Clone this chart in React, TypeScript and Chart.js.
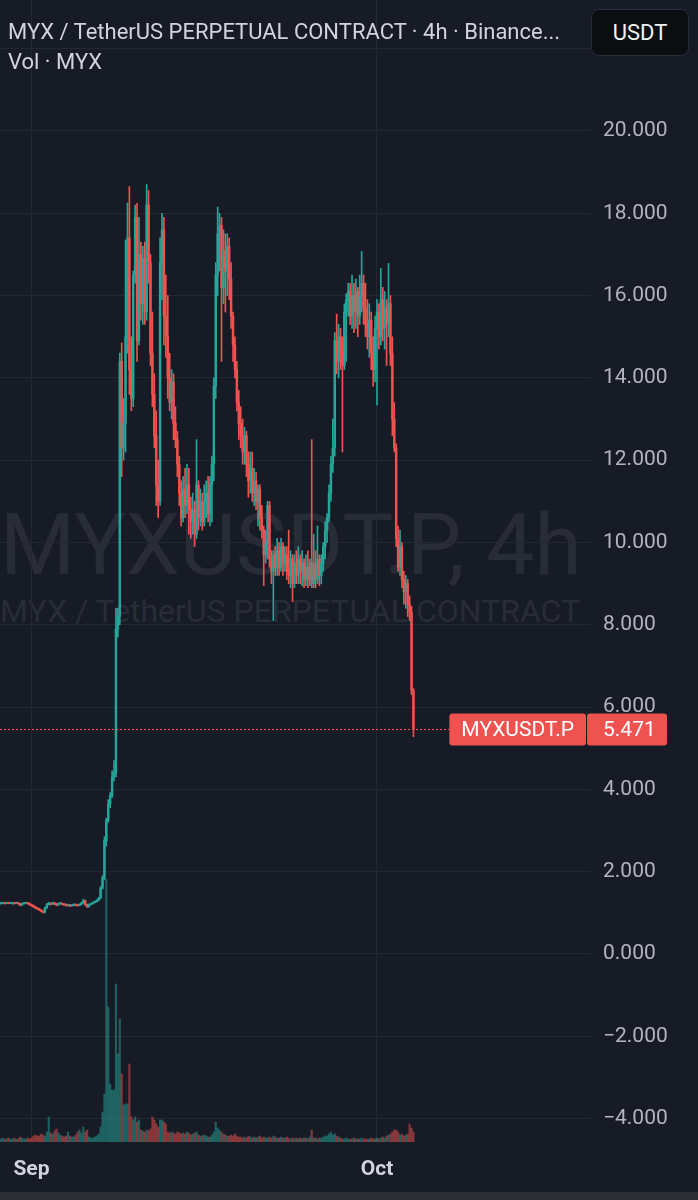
import React, { useEffect, useRef } from "react";
import { Chart, registerables } from "chart.js";

Chart.register(...registerables);

// ---- text ----
const SYMBOL = "MYXUSDT.P";
const TITLE = "MYX / TetherUS PERPETUAL CONTRACT · 4h · Binance...";
const SUBTITLE = "Vol · MYX";
const WATERMARK_MAIN = "MYXUSDT.P, 4h";
const WATERMARK_SUB = "MYX / TetherUS PERPETUAL CONTRACT";
const CURRENCY = "USDT";

// ---- time grid (hours relative to Sep 1 00:00) ----
const START_HOUR = -64;
const CANDLE_HOURS = 4;
const TIME_TICKS = [0, 720];
const TIME_LABELS = ["Sep", "Oct"];
const X_MIN = -65.6;
const X_MAX = 1163.9;

// ---- price scale ----
const PRICE_TICKS = [-4, -2, 0, 2, 4, 6, 8, 10, 12, 14, 16, 18, 20, 22];
const Y_MIN = -4.569;
const Y_MAX = 23.183;
const LAST_PRICE = 5.471;
const VOL_MAX = 114.2;

// ---- 4h candles ----
const FIRST_OPEN = 1.22;
const CLOSE = [
  1.23, 1.24, 1.23, 1.24, 1.23, 1.24, 1.24, 1.23, 1.24, 1.23,
  1.19, 1.22, 1.23, 1.24, 1.23, 1.2, 1.18, 1.15, 1.12, 1.1,
  1.07, 1.04, 1.02, 1.12, 1.2, 1.23, 1.21, 1.24, 1.22, 1.19,
  1.22, 1.23, 1.21, 1.2, 1.18, 1.19, 1.17, 1.18, 1.2, 1.19,
  1.18, 1.2, 1.24, 1.3, 1.2, 1.15, 1.2, 1.22, 1.25, 1.27,
  1.3, 1.36, 1.6, 1.85, 2.75, 3.25, 3.65, 3.85, 4.3, 4.4,
  7.9, 8.2, 14.4, 12.3, 12.9, 15.0, 17.4, 14.2, 13.5, 16.5,
  17.9, 14.9, 17.0, 15.8, 16.9, 15.6, 18.2, 16.8, 14.6, 13.6,
  12.6, 11.4, 11.0, 16.8, 17.6, 15.5, 15.0, 14.0, 13.4, 13.9,
  12.9, 12.5, 11.9, 11.2, 10.6, 11.3, 10.9, 11.4, 10.8, 10.5,
  10.8, 10.2, 11.4, 10.6, 11.0, 10.5, 11.0, 11.2, 10.7, 11.4,
  11.9, 13.8, 16.5, 17.5, 17.7, 16.2, 17.1, 16.6, 17.2, 16.4,
  15.5, 14.8, 14.2, 13.4, 12.9, 12.6, 12.2, 12.6, 11.9, 11.5,
  11.8, 11.2, 11.5, 11.0, 11.3, 10.6, 10.3, 9.7, 10.0, 10.9,
  9.6, 9.3, 9.7, 9.4, 9.8, 9.4, 9.9, 9.5, 9.7, 9.3,
  9.2, 9.6, 9.0, 9.5, 9.2, 9.6, 9.3, 9.5, 9.1, 9.4,
  9.1, 9.5, 9.0, 9.5, 9.1, 9.6, 9.2, 9.5, 9.9, 10.3,
  10.6, 11.2, 11.9, 12.3, 14.9, 14.4, 15.0, 14.6, 14.3, 15.6,
  15.9, 16.1, 15.5, 16.0, 15.6, 16.1, 15.5, 16.0, 16.3, 15.7,
  15.3, 15.0, 15.4, 14.6, 14.2, 15.2, 15.6, 15.0, 15.9, 15.2,
  15.7, 15.3, 15.8, 14.6, 13.0, 12.3, 10.1, 9.4, 9.9, 9.1,
  8.8, 9.0, 8.5, 8.3, 6.4, 5.471,
];
const HIGH = [
  1.25, 1.26, 1.25, 1.26, 1.25, 1.26, 1.25, 1.25, 1.26, 1.25,
  1.24, 1.24, 1.25, 1.26, 1.25, 1.24, 1.21, 1.19, 1.16, 1.13,
  1.11, 1.08, 1.05, 1.14, 1.23, 1.26, 1.24, 1.26, 1.25, 1.23,
  1.24, 1.25, 1.24, 1.22, 1.21, 1.21, 1.2, 1.2, 1.22, 1.21,
  1.2, 1.22, 1.26, 1.33, 1.31, 1.21, 1.22, 1.24, 1.27, 1.29,
  1.32, 1.38, 1.64, 1.9, 2.85, 3.3, 3.75, 3.92, 4.45, 4.7,
  8.4, 8.4, 14.6, 14.85, 13.5, 17.35, 18.25, 18.65, 15.0, 16.6,
  18.2, 18.24, 17.9, 17.3, 17.2, 17.3, 18.7, 18.55, 17.0, 15.6,
  14.1, 13.2, 12.0, 17.4, 18.0, 17.9, 16.5, 16.0, 14.6, 14.2,
  14.1, 13.3, 12.7, 12.1, 11.5, 11.6, 11.8, 11.9, 11.8, 11.1,
  11.2, 11.0, 12.5, 11.5, 11.3, 11.2, 11.4, 11.5, 11.6, 11.6,
  12.1, 14.0, 16.8, 18.15, 18.0, 17.9, 17.6, 17.5, 17.5, 17.4,
  16.8, 15.6, 15.0, 14.4, 13.7, 13.3, 13.0, 12.8, 12.7, 12.2,
  12.2, 12.2, 11.8, 11.7, 11.4, 11.4, 10.9, 10.4, 10.3, 11.0,
  11.0, 9.8, 9.8, 9.9, 10.1, 10.0, 10.1, 10.0, 9.9, 9.9,
  10.3, 9.8, 9.7, 9.7, 9.8, 9.9, 9.7, 9.8, 9.6, 9.7,
  9.8, 9.6, 12.5, 10.2, 9.8, 10.4, 9.7, 9.7, 10.0, 10.5,
  10.7, 11.4, 12.1, 13.0, 15.1, 15.55, 15.3, 15.2, 15.0, 15.8,
  16.05, 16.3, 16.3, 16.5, 16.3, 16.4, 16.2, 16.5, 17.07, 16.5,
  16.3, 15.9, 15.8, 15.6, 15.0, 15.5, 15.9, 15.8, 16.66, 16.2,
  16.1, 15.9, 16.78, 16.0, 15.0, 13.4, 12.4, 10.4, 10.3, 10.0,
  9.3, 9.2, 9.1, 8.7, 8.45, 6.45,
];
const LOW = [
  1.21, 1.22, 1.21, 1.22, 1.22, 1.22, 1.22, 1.21, 1.22, 1.21,
  1.17, 1.18, 1.21, 1.22, 1.21, 1.18, 1.16, 1.13, 1.1, 1.08,
  1.05, 1.02, 0.99, 1.0, 1.11, 1.19, 1.19, 1.2, 1.2, 1.17,
  1.18, 1.21, 1.19, 1.18, 1.16, 1.16, 1.15, 1.16, 1.17, 1.17,
  1.16, 1.17, 1.19, 1.23, 1.18, 1.13, 1.14, 1.19, 1.21, 1.24,
  1.26, 1.29, 1.34, 1.58, 1.8, 2.62, 3.2, 3.55, 3.8, 4.2,
  4.3, 7.7, 8.0, 11.6, 12.0, 12.2, 14.6, 13.6, 13.2, 13.3,
  16.3, 14.4, 14.8, 15.4, 15.3, 15.3, 15.4, 16.3, 14.3, 13.3,
  12.3, 10.9, 10.6, 10.9, 15.9, 14.8, 14.5, 13.5, 13.2, 13.0,
  12.5, 12.3, 11.6, 10.9, 10.4, 10.5, 10.6, 10.7, 10.2, 10.1,
  10.2, 9.9, 10.1, 10.3, 10.4, 10.3, 10.4, 10.6, 10.5, 10.4,
  10.5, 11.5, 13.5, 16.0, 16.6, 14.4, 15.8, 15.6, 16.0, 15.9,
  15.2, 14.4, 14.0, 13.2, 12.5, 12.3, 11.9, 11.9, 11.6, 11.1,
  11.2, 11.0, 10.9, 10.8, 10.4, 10.3, 10.1, 8.95, 9.5, 9.6,
  9.4, 9.0, 8.1, 9.2, 9.2, 9.2, 9.3, 9.2, 9.3, 9.1,
  9.0, 8.9, 8.56, 8.9, 9.0, 9.0, 9.0, 8.95, 8.9, 8.95,
  8.9, 8.95, 8.9, 8.9, 8.9, 9.0, 8.95, 9.0, 9.3, 9.6,
  10.0, 10.5, 11.0, 11.7, 12.1, 14.1, 14.0, 14.2, 12.2, 14.2,
  14.4, 15.5, 15.3, 15.2, 15.1, 15.2, 15.0, 15.3, 15.6, 15.3,
  15.0, 14.7, 14.5, 14.2, 13.8, 13.9, 13.34, 14.7, 14.8, 14.9,
  14.7, 14.3, 15.0, 14.3, 12.6, 12.2, 9.9, 9.3, 9.2, 8.9,
  8.5, 8.4, 8.2, 8.1, 6.3, 5.28,
];
// volume, millions of MYX
const VOLUME = [
  0.3, 0.4, 0.3, 0.3, 0.4, 0.3, 0.3, 0.4, 0.3, 0.3,
  0.5, 0.4, 0.3, 0.3, 0.4, 0.3, 0.4, 0.6, 0.7, 0.6,
  0.6, 0.8, 0.7, 0.6, 1.0, 2.5, 0.9, 0.8, 1.1, 1.3,
  0.9, 0.7, 0.6, 0.5, 0.6, 1.0, 0.6, 0.5, 0.5, 0.7,
  1.0, 1.2, 0.9, 1.5, 1.0, 1.2, 0.5, 0.4, 0.4, 0.5,
  0.6, 0.8, 1.5, 3.0, 4.8, 26.3, 13.5, 5.8, 5.2, 5.2,
  15.8, 8.8, 12.3, 6.8, 3.7, 3.8, 3.8, 7.8, 2.5, 2.2,
  2.5, 2.0, 2.2, 1.2, 1.1, 1.0, 1.2, 1.1, 1.3, 2.5,
  2.2, 1.8, 1.5, 2.2, 2.2, 2.0, 1.8, 1.0, 0.9, 1.0,
  0.9, 0.8, 1.0, 0.9, 0.8, 0.9, 0.8, 1.0, 0.9, 0.7,
  0.8, 0.9, 1.0, 0.7, 0.6, 0.6, 0.7, 0.6, 0.5, 0.5,
  0.7, 1.0, 2.0, 1.4, 1.2, 1.0, 0.8, 0.7, 0.6, 0.6,
  0.7, 0.6, 0.8, 0.6, 0.5, 0.5, 0.4, 0.5, 0.4, 0.6,
  0.5, 0.4, 0.5, 0.4, 0.5, 0.6, 0.4, 0.5, 0.4, 0.4,
  0.5, 0.4, 0.6, 0.5, 0.4, 0.4, 0.5, 0.4, 0.4, 0.5,
  0.4, 0.3, 0.4, 0.3, 0.4, 0.3, 0.4, 0.3, 0.4, 0.4,
  0.3, 0.5, 1.2, 0.4, 0.4, 0.3, 0.4, 0.4, 0.5, 0.6,
  0.6, 0.8, 1.0, 0.7, 0.8, 0.6, 0.5, 0.4, 0.3, 0.3,
  0.4, 0.3, 0.3, 0.3, 0.4, 0.3, 0.3, 0.3, 0.4, 0.3,
  0.3, 0.3, 0.3, 0.4, 0.3, 0.3, 0.4, 0.3, 0.4, 0.5,
  0.4, 0.6, 0.7, 0.8, 1.0, 1.2, 1.2, 1.0, 0.7, 0.8,
  0.6, 0.7, 0.8, 1.8, 1.4, 1.0,
];

// ---- style ----
const BG = "#171b26";
const GRID = "#242833";
const UP = "#26a69a";
const DOWN = "#ef5350";
const UP_VOL = "rgba(38,166,154,0.5)";
const DOWN_VOL = "rgba(239,83,80,0.5)";
const AXIS_TEXT = "#b2b5be";
const HEAD_TEXT = "#d1d4dc";
const WATERMARK = "#282c37";
const FONT = 'Roboto, "Noto Sans", sans-serif';

const fmtPrice = (v: number) => (v < 0 ? "\u2212" : "") + Math.abs(v).toFixed(3);

const priceLinePlugin = {
  id: "priceLine",
  afterDraw(chart: any) {
    const { ctx, chartArea, scales } = chart;
    const y = Math.round(scales.y.getPixelForValue(LAST_PRICE)) + 0.5;
    const h = 32;
    ctx.save();
    ctx.font = `21px ${FONT}`;
    const valueLeft = chartArea.right - 3;
    const valueW = 80;
    const symW = ctx.measureText(SYMBOL).width + 24;
    const symLeft = valueLeft - 1 - symW;
    ctx.strokeStyle = DOWN;
    ctx.lineWidth = 1;
    ctx.setLineDash([2, 2]);
    ctx.beginPath();
    ctx.moveTo(chartArea.left, y);
    ctx.lineTo(symLeft, y);
    ctx.stroke();
    ctx.setLineDash([]);
    ctx.fillStyle = DOWN;
    ctx.beginPath();
    ctx.roundRect(symLeft, y - h / 2, symW, h, 3);
    ctx.fill();
    ctx.beginPath();
    ctx.roundRect(valueLeft, y - h / 2, valueW, h, 3);
    ctx.fill();
    ctx.fillStyle = "#ffffff";
    ctx.textBaseline = "middle";
    ctx.textAlign = "center";
    ctx.fillText(SYMBOL, symLeft + symW / 2, y + 1);
    ctx.textAlign = "left";
    ctx.fillText(LAST_PRICE.toFixed(3), chartArea.right + 13, y + 1);
    ctx.restore();
  },
};

export default function App() {
  const ref = useRef<HTMLCanvasElement | null>(null);

  useEffect(() => {
    if (!ref.current) return;
    Chart.defaults.font.family = FONT;
    const opens = CLOSE.map((_, i) => (i === 0 ? FIRST_OPEN : CLOSE[i - 1]));
    const xs = CLOSE.map((_, i) => START_HOUR + i * CANDLE_HOURS);
    const up = CLOSE.map((c, i) => c >= opens[i]);
    const bodies = xs.map((x, i) => ({ x, y: [opens[i], CLOSE[i]] }));
    const wicks = xs.map((x, i) => ({ x, y: [LOW[i], HIGH[i]] }));
    const vols = xs.map((x, i) => ({ x, y: VOLUME[i] }));

    const chart = new Chart(ref.current, {
      type: "bar",
      data: {
        datasets: [
          {
            data: bodies as any,
            yAxisID: "y",
            backgroundColor: up.map((u) => (u ? UP : DOWN)),
            barThickness: 1.8,
            minBarLength: 1,
            grouped: false,
            order: 1,
          },
          {
            data: wicks as any,
            yAxisID: "y",
            backgroundColor: up.map((u) => (u ? UP : DOWN)),
            barThickness: 1,
            grouped: false,
            order: 2,
          },
          {
            data: vols as any,
            yAxisID: "v",
            backgroundColor: up.map((u) => (u ? UP_VOL : DOWN_VOL)),
            barThickness: 1.5,
            grouped: false,
            order: 3,
          },
        ],
      },
      options: {
        responsive: false,
        animation: false,
        layout: { padding: 0 },
        plugins: { legend: { display: false }, tooltip: { enabled: false } },
        scales: {
          x: {
            type: "linear",
            position: "bottom",
            min: X_MIN,
            max: X_MAX,
            offset: false,
            grid: { color: GRID, drawTicks: false, offset: false, lineWidth: 1 },
            border: { display: false },
            ticks: {
              color: HEAD_TEXT,
              font: { size: 21, weight: "bold" },
              padding: 15,
              maxRotation: 0,
              autoSkip: false,
              callback: (v: any) => {
                const k = TIME_TICKS.indexOf(Number(v));
                return k >= 0 ? TIME_LABELS[k] : "";
              },
            },
            afterBuildTicks: (s: any) => {
              s.ticks = TIME_TICKS.map((v) => ({ value: v }));
            },
            afterFit: (s: any) => {
              s.height = 58;
              s.paddingLeft = 0;
              s.paddingRight = 0;
            },
          },
          y: {
            type: "linear",
            position: "right",
            min: Y_MIN,
            max: Y_MAX,
            grid: { color: GRID, drawTicks: false, lineWidth: 1 },
            border: { display: false },
            ticks: {
              color: AXIS_TEXT,
              font: { size: 21 },
              padding: 13,
              callback: (v: any) => fmtPrice(Number(v)),
            },
            afterBuildTicks: (s: any) => {
              s.ticks = PRICE_TICKS.map((v) => ({ value: v }));
            },
            afterFit: (s: any) => {
              s.width = 108;
              s.paddingTop = 0;
              s.paddingBottom = 0;
            },
          },
          v: { type: "linear", display: false, min: 0, max: VOL_MAX },
        },
      } as any,
      plugins: [priceLinePlugin],
    });
    return () => chart.destroy();
  }, []);

  return (
    <div
      style={{
        position: "absolute",
        top: 0,
        left: 0,
        width: 698,
        height: 1200,
        background: BG,
        overflow: "hidden",
        fontFamily: FONT,
      }}
    >
      <div
        style={{
          position: "absolute",
          left: 0,
          width: 580,
          top: 503,
          textAlign: "center",
          fontSize: 86,
          lineHeight: "84px",
          color: WATERMARK,
          whiteSpace: "nowrap",
        }}
      >
        {WATERMARK_MAIN}
      </div>
      <div
        style={{
          position: "absolute",
          left: 0,
          width: 580,
          top: 596,
          textAlign: "center",
          fontSize: 32,
          lineHeight: "31px",
          color: WATERMARK,
          whiteSpace: "nowrap",
        }}
      >
        {WATERMARK_SUB}
      </div>
      <canvas
        ref={ref}
        width={698}
        height={1200}
        style={{ position: "absolute", top: 0, left: 0, display: "block" }}
      />
      <div
        style={{
          position: "absolute",
          left: 8,
          top: 17,
          fontSize: 22,
          lineHeight: "30px",
          color: HEAD_TEXT,
          whiteSpace: "nowrap",
        }}
      >
        <div>{TITLE}</div>
        <div>{SUBTITLE}</div>
      </div>
      <div
        style={{
          position: "absolute",
          left: 591,
          top: 9,
          width: 98,
          height: 47,
          boxSizing: "border-box",
          borderRadius: 8,
          background: "#0c0d10",
          border: "1px solid #2a2e39",
          color: "#f0f3fa",
          fontSize: 22,
          lineHeight: "45px",
          textAlign: "center",
        }}
      >
        {CURRENCY}
      </div>
      <div
        style={{
          position: "absolute",
          left: 0,
          top: 1192,
          width: 698,
          height: 8,
          background: "#2a2d33",
        }}
      />
    </div>
  );
}
